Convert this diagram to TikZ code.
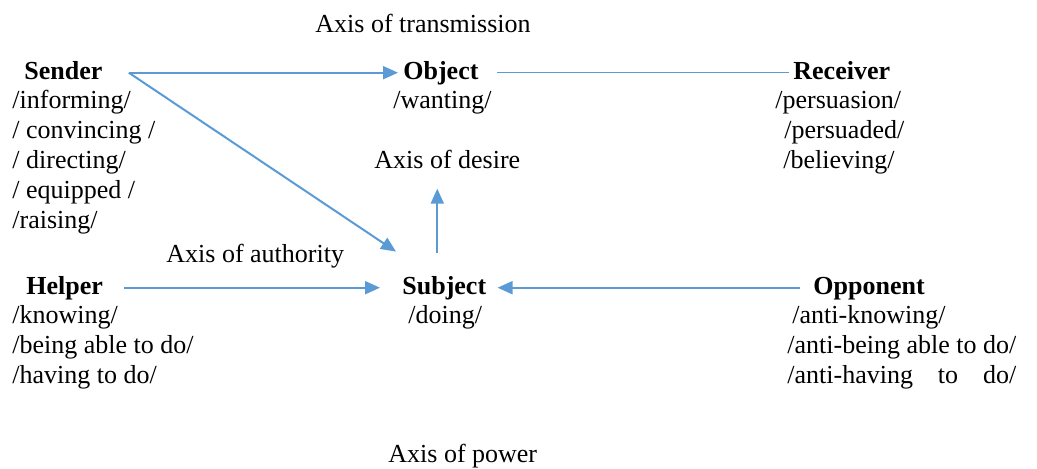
\documentclass[tikz,border=0pt]{standalone}
\usepackage{fontspec}
\setmainfont{Liberation Serif}
\usepackage{calc}
\usetikzlibrary{positioning, arrows.meta}
\definecolor{axisblue}{HTML}{5B9BD5}

\begin{document}
\begin{tikzpicture}
    [
        x=0.5pt, y=-0.5pt,
        actant_node/.style={inner sep=0pt, anchor=base west, font=\fontsize{13}{15}\selectfont\bfseries, text height=8pt, text depth=1.7pt},
        list_node/.style={inner sep=0pt, anchor=base west, align=left, font=\fontsize{13}{15}\selectfont},
        axis_label/.style={inner sep=0pt, anchor=base west, font=\fontsize{13}{15}\selectfont},
        axis_arrow/.style={-{Triangle[length=7.5pt, width=6.5pt]}, line width=1pt, color=axisblue},
    ]
        \useasboundingbox (0,0) rectangle (1037,468) ;
        % actants
        \node[actant_node] (sender) at (24,79) {Sender} ;
        \node[actant_node] (object) at (403,79) {Object} ;
        \node[actant_node] (receiver) at (793,79) {Receiver} ;
        \node[actant_node] (helper) at (26,294) {Helper} ;
        \node[actant_node] (subject) at (402,294) {Subject} ;
        \node[actant_node] (opponent) at (813,294) {Opponent} ;
        % their values (base = baseline of the last line)
        \node[list_node] (sender_list) at (12,228) {/informing/\\/ convincing /\\/ directing/\\/ equipped /\\/raising/} ;
        \node[list_node] (object_list) at (393,108) {/wanting/} ;
        \node[list_node] (receiver_list) at (775,168) {/persuasion/\\\hspace*{4.5pt}/persuaded/\\\hspace*{4pt}/believing/} ;
        \node[list_node] (helper_list) at (12,383) {/knowing/\\/being able to do/\\/having to do/} ;
        \node[list_node] (subject_list) at (408,323) {/doing/} ;
        \node[list_node] (opponent_list) at (787,383) {\hspace*{2.5pt}/anti-knowing/\\/anti-being able to do/\\\makebox[\widthof{/anti-being able to do/}][s]{/anti-having to do/}} ;
        % axes
        \node[axis_label] (transmission) at (315,32) {Axis of transmission} ;
        \node[axis_label] (desire) at (374,168) {Axis of desire} ;
        \node[axis_label] (authority) at (166,262) {Axis of authority} ;
        \node[axis_label] (power) at (388,462) {Axis of power} ;
        \draw[axis_arrow] ([xshift=13pt]sender.east) -- ([xshift=-2.5pt]object.west) ;
        \draw[axis_arrow] ([xshift=13pt]sender.east) -- ([shift={(-3pt,13pt)}]subject.north west) ;
        \draw[line width=0.6pt, color=axisblue] ([xshift=9pt]object.east) -- ([xshift=-2pt]receiver.west) ;
        \draw[axis_arrow, shorten <=12.5pt, shorten >=10pt] ([xshift=-3.5pt]subject.north) -- ([xshift=-3.5pt]subject.north |- desire.south) ;
        \draw[axis_arrow] ([xshift=10.5pt]helper.east) -- ([xshift=-11pt]subject.west) ;
        \draw[axis_arrow] ([xshift=-6.5pt]opponent.west) -- ([xshift=5.5pt]subject.east) ;
\end{tikzpicture}
\end{document}
